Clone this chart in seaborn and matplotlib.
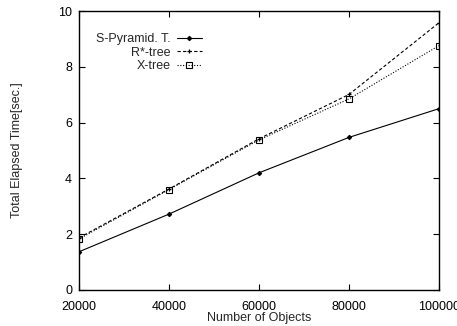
# Elapsed time vs number of objects (gnuplot-style line chart)
import pandas as pd
import matplotlib
matplotlib.use("Agg")
import matplotlib.pyplot as plt
import seaborn as sns

# Data
objects = [20000, 40000, 60000, 80000, 100000]
s_pyramid = [1.37, 2.72, 4.2, 5.47, 6.5]
r_star = [1.87, 3.62, 5.42, 7.01, 9.58]
x_tree = [1.83, 3.6, 5.38, 6.85, 8.76]
names = ["S-Pyramid. T.", "R*-tree", "X-tree"]

df = pd.DataFrame({
    "objects": objects * 3,
    "time": s_pyramid + r_star + x_tree,
    "method": [n for n in names for _ in objects],
})

sns.set_style("ticks")
plt.rcParams["font.family"] = ["Liberation Sans", "DejaVu Sans"]
plt.rcParams["font.size"] = 9

fig, ax = plt.subplots(figsize=(4.57, 3.26), dpi=100)
fig.subplots_adjust(left=79 / 457, right=439 / 457, bottom=36 / 326, top=1 - 11 / 326)

sns.lineplot(
    data=df, x="objects", y="time", style="method", ax=ax,
    color="black", linewidth=0.8,
    dashes={"S-Pyramid. T.": "", "R*-tree": (3, 2), "X-tree": (1, 1.5)},
    markers={"S-Pyramid. T.": "D", "R*-tree": "P", "X-tree": "s"},
    markersize=4, legend=False,
)
# style the markers like gnuplot
for line, ms in zip(ax.lines, [2.2, 3.5, 4.2]):
    line.set_markersize(ms)
    line.set_markerfacecolor("none" if line.get_marker() == "s" else "black")
    line.set_markeredgecolor("black")
    line.set_markeredgewidth(0.8)
ax.lines[1].set_marker("+")
ax.lines[1].set_markeredgewidth(0.9)

ax.legend(ax.lines, names, loc="upper left", markerfirst=False, frameon=False,
          fontsize=9, handlelength=2.0, labelspacing=0.1,
          bbox_to_anchor=(0.015, 0.96), handletextpad=0.5)

ax.set_xlim(20000, 100000)
ax.set_ylim(0, 10)
ax.set_xticks(objects)
ax.set_yticks([0, 2, 4, 6, 8, 10])
ax.tick_params(direction="in", top=True, right=True, length=4, width=0.8,
               labelsize=9, colors="black")
ax.tick_params(axis="x", pad=8)
ax.tick_params(axis="y", pad=5)
for sp in ax.spines.values():
    sp.set_linewidth(1.0)
    sp.set_color("black")
ax.set_xlabel("Number of Objects", fontsize=9, labelpad=-1)
ax.set_ylabel("Total Elapsed Time[sec.]", fontsize=9, labelpad=25)

fig.savefig("out.png", dpi=100)
